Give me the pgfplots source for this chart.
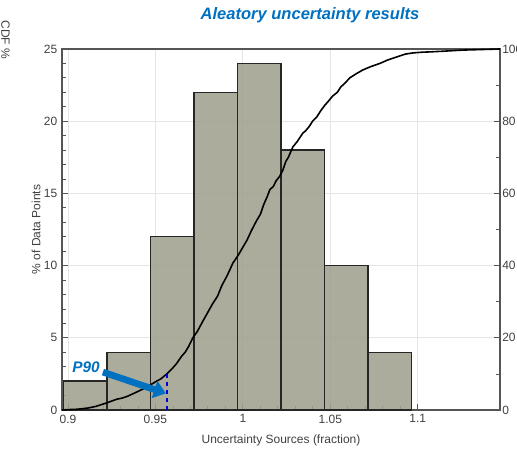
\documentclass[border=0pt]{standalone}
\usepackage{fontspec}
\setmainfont{Liberation Sans}
\usepackage{pgfplots}
\pgfplotsset{compat=1.18}
\usetikzlibrary{arrows.meta}
\definecolor{barfill}{RGB}{160,160,143}
\definecolor{tblue}{RGB}{0,112,192}
\definecolor{tickc}{RGB}{64,64,64}
\definecolor{axc}{RGB}{85,85,85}
\begin{document}
\begin{tikzpicture}
\useasboundingbox (0,0) rectangle (387.75pt,337.5pt);
\pgfplotsset{
  common/.style={
    at={(46.5pt,30pt)}, anchor=south west,
    width=328.5pt, height=270.75pt, scale only axis,
    xmin=0.8966, xmax=1.147,
    font=\fontsize{9}{10}\selectfont,
    ticklabel style={text=tickc, font=\fontsize{9}{10}\selectfont},
    /pgf/number format/assume math mode=true,
    tick style={axc, line width=0.6pt},
    axis line style={axc, line width=1.1pt},
    tick align=inside,
  }
}
\begin{axis}[common,
  ymin=0, ymax=25,
  ytick={0,5,10,15,20,25}, minor y tick num=4,
  xtick={0.9,0.95,1,1.05,1.1}, minor x tick num=4,
  xticklabels={0.9,0.95,1,1.05,1.1},
  xtick pos=bottom, ytick pos=left,
  grid=major, major grid style={black!10, line width=0.6pt},
  ylabel={\% of Data Points},
  ylabel style={at={(axis description cs:-0.059,0.5)}, anchor=center, text=tickc},
  xlabel={Uncertainty Sources (fraction)},
  xlabel style={at={(axis description cs:0.5,-0.083)}, anchor=center, text=tickc},
]
\addplot[ybar interval, fill=barfill, fill opacity=0.88, draw=black!85, line width=1pt]
  coordinates {(0.8975,2)(0.9223,4)(0.9472,12)(0.9720,22)(0.9969,24)(1.0218,18)(1.0467,10)(1.0716,4)(1.0965,4)};
\end{axis}
\begin{axis}[common,
  axis x line=none, axis y line*=right,
  ymin=0, ymax=100,
  ytick={0,20,40,60,80,100}, minor y tick num=1,
  yticklabel style={inner xsep=1.5pt},
  clip=false,
]
\addplot[black, line width=1.2pt] coordinates {
(0.8966,0)(0.9000,0.1)(0.9050,0.2)(0.9109,0.5)(0.9160,1.0)(0.9223,2.0)(0.9280,3.0)(0.9310,3.3)(0.9340,3.8)(0.9394,5.0)(0.9450,6.3)(0.9500,7.8)(0.9530,8.6)(0.9566,10.0)(0.9600,11.7)(0.9620,12.8)(0.9650,14.9)(0.9670,16.0)(0.9690,17.6)(0.9714,20.0)(0.9740,21.8)(0.9770,24.5)(0.9800,27.1)(0.9829,29.6)(0.9855,31.5)(0.9880,34.5)(0.9910,37.2)(0.9943,40.7)(0.9975,43.0)(1.0000,45.1)(1.0023,47.0)(1.0050,49.8)(1.0080,52.6)(1.0100,54.2)(1.0120,57.0)(1.0140,59.2)(1.0154,61.0)(1.0175,62.0)(1.0190,63.5)(1.0210,64.7)(1.0229,66.5)(1.0245,68.8)(1.0260,70.0)(1.0286,72.9)(1.0310,74.3)(1.0343,76.7)(1.0360,77.4)(1.0380,78.6)(1.0400,80.1)(1.0423,81.2)(1.0445,82.9)(1.0470,84.5)(1.0490,85.6)(1.0514,87.0)(1.0540,88.0)(1.0560,89.5)(1.0585,90.6)(1.0611,92.0)(1.0650,93.2)(1.0686,94.2)(1.0730,95.1)(1.0783,96.0)(1.0830,97.0)(1.0880,97.8)(1.0930,98.6)(1.0971,98.9)(1.1020,99.1)(1.1069,99.2)(1.1150,99.4)(1.1257,99.7)(1.1469,100)};
\addplot[blue!85!black, dashed, line width=1pt] coordinates {(0.9566,0)(0.9566,10)};
\addplot[tblue, line width=5pt, -{Triangle[length=9pt,width=13pt]}] coordinates {(0.9200,10.5)(0.9560,4.6)};
\node[text=tblue, font=\bfseries\itshape\fontsize{11.5}{12}\selectfont] at (axis cs:0.9103,11.9) {P90};
\end{axis}
\node[text=tblue, font=\bfseries\itshape\fontsize{12.4}{14}\selectfont] at (232.5pt,326.25pt) {Aleatory uncertainty results};
\node[rotate=-90, text=tickc, font=\fontsize{9}{10}\selectfont, inner sep=0pt] at (4.2pt,307.5pt) {CDF \%};
\end{tikzpicture}
\end{document}
